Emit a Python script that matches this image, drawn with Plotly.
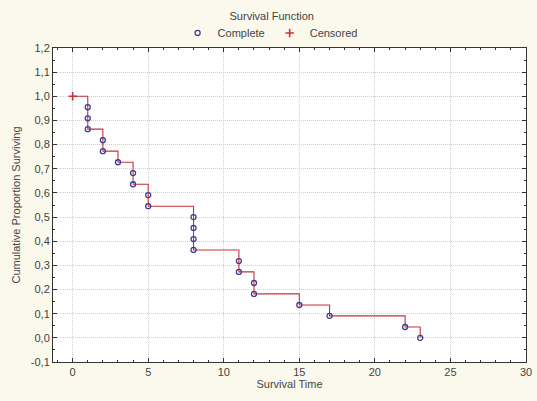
import plotly.graph_objects as go

# Data
censored_time = [0]
censored_surv = [1.0]
complete_time = [1, 1, 1, 2, 2, 3, 4, 4, 5, 5, 8, 8, 8, 8, 11, 11, 12, 12, 15, 17, 22, 23]
complete_surv = [0.955, 0.909, 0.864, 0.818, 0.773, 0.727, 0.682, 0.636, 0.591, 0.545,
                 0.500, 0.455, 0.409, 0.364, 0.318, 0.273, 0.227, 0.182, 0.136, 0.091,
                 0.045, 0.000]
x_ticks = [0, 5, 10, 15, 20, 25, 30]
y_ticks = [-0.1, 0.0, 0.1, 0.2, 0.3, 0.4, 0.5, 0.6, 0.7, 0.8, 0.9, 1.0, 1.1, 1.2]
y_tick_labels = ["-0,1", "0,0", "0,1", "0,2", "0,3", "0,4", "0,5", "0,6",
                 "0,7", "0,8", "0,9", "1,0", "1,1", "1,2"]

BG = "#FBF8EC"
TXT = "#444444"
RED = "#C8323A"
BLUE = "#3C3C96"
FONT = "Liberation Sans, Arial, sans-serif"

fig = go.Figure()

# step line
fig.add_trace(go.Scatter(
    x=censored_time + complete_time,
    y=censored_surv + complete_surv,
    mode="lines", line=dict(color=RED, width=1.1, shape="hv"),
    showlegend=False, hoverinfo="skip"))

fig.add_trace(go.Scatter(
    x=complete_time, y=complete_surv, mode="markers", name="Complete",
    marker=dict(symbol="circle-open", size=5, color=BLUE, line=dict(width=1.3, color=BLUE))))

fig.add_trace(go.Scatter(
    x=censored_time, y=censored_surv, mode="markers", name="Censored",
    marker=dict(symbol="cross-thin-open", size=6, color=RED, line=dict(width=1.6, color=RED))))

axis_common = dict(
    showline=True, linecolor="#333333", linewidth=1, mirror="allticks",
    ticks="inside", ticklen=4, tickcolor="#333333",
    showgrid=True, gridcolor="#CFCFCF", griddash="1px,1px", gridwidth=1,
    zeroline=False, tickfont=dict(size=11, color=TXT, family=FONT),
    automargin=False,
)

fig.update_xaxes(
    range=[-1.3, 30], tickmode="array", tickvals=x_ticks,
    minor=dict(ticks="inside", ticklen=2, tickcolor="#333333", dtick=1, tick0=0, showgrid=False),
    title=dict(text="Survival Time", font=dict(size=11, color=TXT, family=FONT), standoff=3),
    **axis_common)

fig.update_yaxes(
    range=[-0.1, 1.2], tickmode="array", tickvals=y_ticks, ticktext=y_tick_labels,
    minor=dict(ticks="inside", ticklen=2, tickcolor="#333333", dtick=0.05, tick0=0, showgrid=False),
    title=dict(text="Cumulative Proportion Surviving", font=dict(size=11, color=TXT, family=FONT), standoff=7),
    **axis_common)

fig.update_layout(
    width=537, height=401,
    paper_bgcolor=BG, plot_bgcolor="white",
    margin=dict(l=53, r=11, t=48, b=39, autoexpand=False),
    font=dict(family=FONT, size=11, color=TXT),
    title=dict(text="Survival Function", xref="container", x=0.506, xanchor="center",
               yref="container", y=0.96, yanchor="middle",
               font=dict(size=11, color=TXT, family=FONT)),
    legend=dict(orientation="h", x=0.459, xanchor="center", y=1.048, yanchor="middle",
                bgcolor="rgba(0,0,0,0)", font=dict(size=11, color=TXT, family=FONT),
                itemwidth=30, tracegroupgap=0),
)

fig.write_html("out.html", config={"displayModeBar": False},
               post_script="document.body.style.margin='0';document.body.style.padding='0';")
